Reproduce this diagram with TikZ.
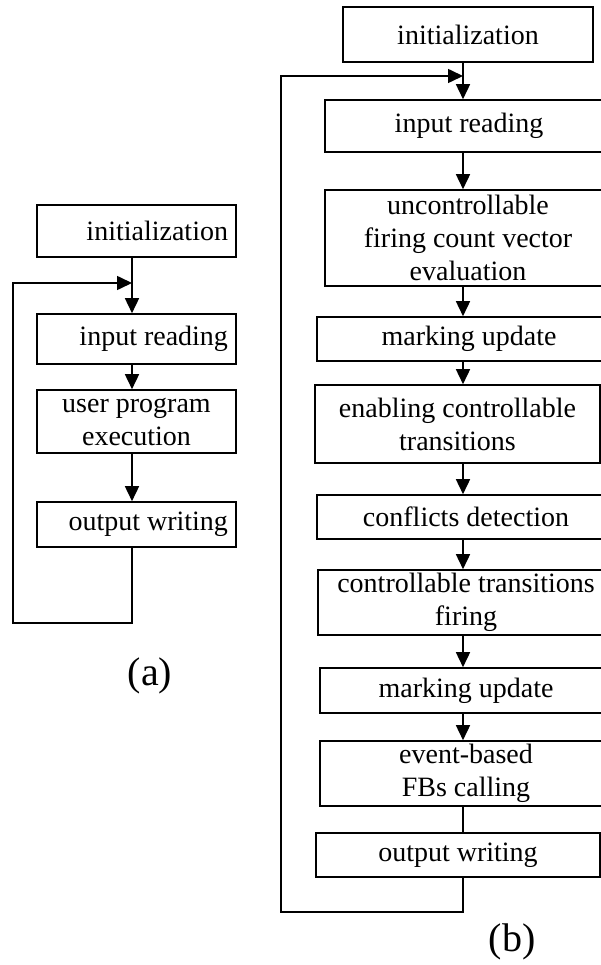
\documentclass[tikz,border=0pt]{standalone}
\usepackage{fontspec}
\setmainfont{Liberation Serif}
\usetikzlibrary{arrows.meta}

\begin{document}
\begin{tikzpicture}[x=1pt,y=-1pt,
    box/.style={draw,line width=1.6pt,inner sep=0pt,align=flush center,
      font=\fontsize{28}{33}\selectfont},
    abox/.style={box,text width=183pt,inner xsep=8pt,align=flush right},
    arr/.style={line width=1.6pt,-{Triangle[length=15pt,width=14pt]}},
    wire/.style={line width=1.6pt}]
  \path[use as bounding box,clip] (0,0) rectangle (601,965);
  % (a) plain scan cycle
  \node[abox,minimum height=52] (ainit) at (136.5,231) {initialization};
  \node[abox,minimum height=50] (ainp) at (136.5,339) {input reading};
  \node[abox,align=flush center,minimum height=63] (ausr) at (136.5,421.5)
    {user program\\execution};
  \node[abox,minimum height=45] (aout) at (136.5,524.5) {output writing};
  \coordinate (ajoin) at (132,283);
  \coordinate (acorner) at (13,623);
  \draw[arr] (ainit.south -| ajoin) -- (ainp.north -| ajoin);
  \draw[arr] (ainp.south -| ajoin) -- (ausr.north -| ajoin);
  \draw[arr] (ausr.south -| ajoin) -- (aout.north -| ajoin);
  \draw[arr] (aout.south -| ajoin) |- (acorner) |- (ajoin);
  \node[font=\fontsize{40}{44}\selectfont] (alabel) at (150,676) {(a)};
  % (b) scan cycle with the supervisor
  \node[box,minimum width=250,minimum height=55] (binit) at (468,34.5)
    {initialization};
  \node[box,minimum width=288,minimum height=52] (binp) at (469,126)
    {input reading};
  \node[box,minimum width=286,minimum height=96] (bunc) at (468,238)
    {uncontrollable\\firing count vector\\evaluation};
  \node[box,minimum width=304,minimum height=44] (bmk) at (469,339)
    {marking update};
  \node[box,minimum width=285,minimum height=78] (ben) at (457.5,424)
    {enabling controllable\\transitions};
  \node[box,minimum width=298,minimum height=44] (bcf) at (466,517)
    {conflicts detection};
  \node[box,minimum width=296,minimum height=65] (bct) at (466,602.5)
    {controllable transitions\\firing};
  \node[box,minimum width=292,minimum height=45] (bmk2) at (466,690.5)
    {marking update};
  \node[box,minimum width=292,minimum height=65] (bev) at (466,773.5)
    {event-based\\FBs calling};
  \node[box,minimum width=284,minimum height=44] (bout) at (458,855)
    {output writing};
  \coordinate (bjoin) at (463,76);
  \coordinate (bcorner) at (281,912);
  \draw[arr] (binit.south -| bjoin) -- (binp.north -| bjoin);
  \draw[arr] (binp.south -| bjoin) -- (bunc.north -| bjoin);
  \draw[arr] (bunc.south -| bjoin) -- (bmk.north -| bjoin);
  \draw[arr] (bmk.south -| bjoin) -- (ben.north -| bjoin);
  \draw[arr] (ben.south -| bjoin) -- (bcf.north -| bjoin);
  \draw[arr] (bcf.south -| bjoin) -- (bct.north -| bjoin);
  \draw[arr] (bct.south -| bjoin) -- (bmk2.north -| bjoin);
  \draw[arr] (bmk2.south -| bjoin) -- (bev.north -| bjoin);
  \draw[wire] (bev.south -| bjoin) -- (bout.north -| bjoin);
  \draw[arr] (bout.south -| bjoin) |- (bcorner) |- (bjoin);
  \node[font=\fontsize{40}{44}\selectfont] (blabel) at (512,942) {(b)};
\end{tikzpicture}
\end{document}
